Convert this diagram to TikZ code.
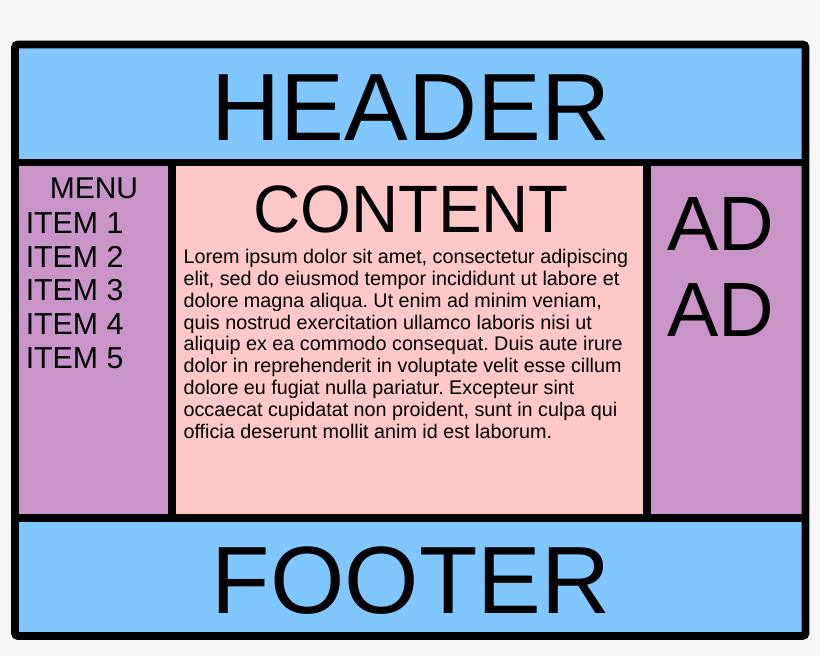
\documentclass[tikz,border=0pt]{standalone}
\usepackage{graphicx}
\usepackage{fontspec}
\setmainfont{Liberation Sans}
\frenchspacing
\definecolor{bgc}{HTML}{F6F6F6}
\definecolor{blueband}{HTML}{80C6FF}
\definecolor{purplecol}{HTML}{C995C9}
\definecolor{pinkcol}{HTML}{FFC8C8}
\tikzset{
  frameline/.style={line width=7.8pt, draw=black},
  lbl/.style={inner sep=0pt, outer sep=0pt, text=black},
  bigtxt/.style={lbl, font=\fontsize{95.6}{95.6}\selectfont, anchor=base},
  menutxt/.style={lbl, font=\fontsize{30.3}{30.3}\selectfont, anchor=base west},
  adtxt/.style={lbl, font=\fontsize{77}{77}\selectfont, anchor=base west},
  loremtxt/.style={lbl, font=\fontsize{19.75}{19.75}\selectfont, anchor=base west},
}
\begin{document}
\begin{tikzpicture}[x=1pt,y=-1pt]
\useasboundingbox (0,0) rectangle (820,656);
\fill[bgc] (0,0) rectangle (820,656);
% fills
\fill[blueband] (15,44.5) rectangle (805.5,162.5);
\fill[purplecol] (15,162.5) rectangle (172,518);
\fill[pinkcol] (172,162.5) rectangle (647,518);
\fill[purplecol] (647,162.5) rectangle (805.5,518);
\fill[blueband] (15,518) rectangle (805.5,636);
% frame
\draw[frameline, rounded corners=3pt] (15,44.5) rectangle (805.5,636);
\draw[frameline] (15,162.5) -- (805.5,162.5);
\draw[frameline] (15,518) -- (805.5,518);
\draw[frameline] (172,162.5) -- (172,518);
\draw[frameline] (647,162.5) -- (647,518);
% texts
\node[bigtxt] (header) at (411,140.7) {HEADER};
\node[bigtxt] (footer) at (411,613.3) {FOOTER};
\node[lbl, font=\fontsize{30}{30}\selectfont, anchor=base] (menu) at (94,198.3) {MENU};
\foreach \i in {1,...,5} {
  \node[menutxt] (item\i) at (25.8,{233.3+33.7*(\i-1)}) {ITEM \i};
}
\node[lbl, font=\fontsize{67}{67}\selectfont, anchor=base] (content) at (411,232.8) {\scalebox{0.975}[1]{CONTENT}};
\node[adtxt] (ad1) at (667,250) {AD};
\node[adtxt] (ad2) at (667,336.7) {AD};
\foreach \t [count=\i] in {
  {Lorem ipsum dolor sit amet, consectetur adipiscing},
  {elit, sed do eiusmod tempor incididunt ut labore et},
  {dolore magna aliqua. Ut enim ad minim veniam,},
  {quis nostrud exercitation ullamco laboris nisi ut},
  {aliquip ex ea commodo consequat. Duis aute irure},
  {dolor in reprehenderit in voluptate velit esse cillum},
  {dolore eu fugiat nulla pariatur. Excepteur sint},
  {occaecat cupidatat non proident, sunt in culpa qui},
  {officia deserunt mollit anim id est laborum.}} {
  \node[loremtxt] (lorem\i) at (183.6,{263.3+21.9*(\i-1)}) {\t};
}
\end{tikzpicture}
\end{document}
